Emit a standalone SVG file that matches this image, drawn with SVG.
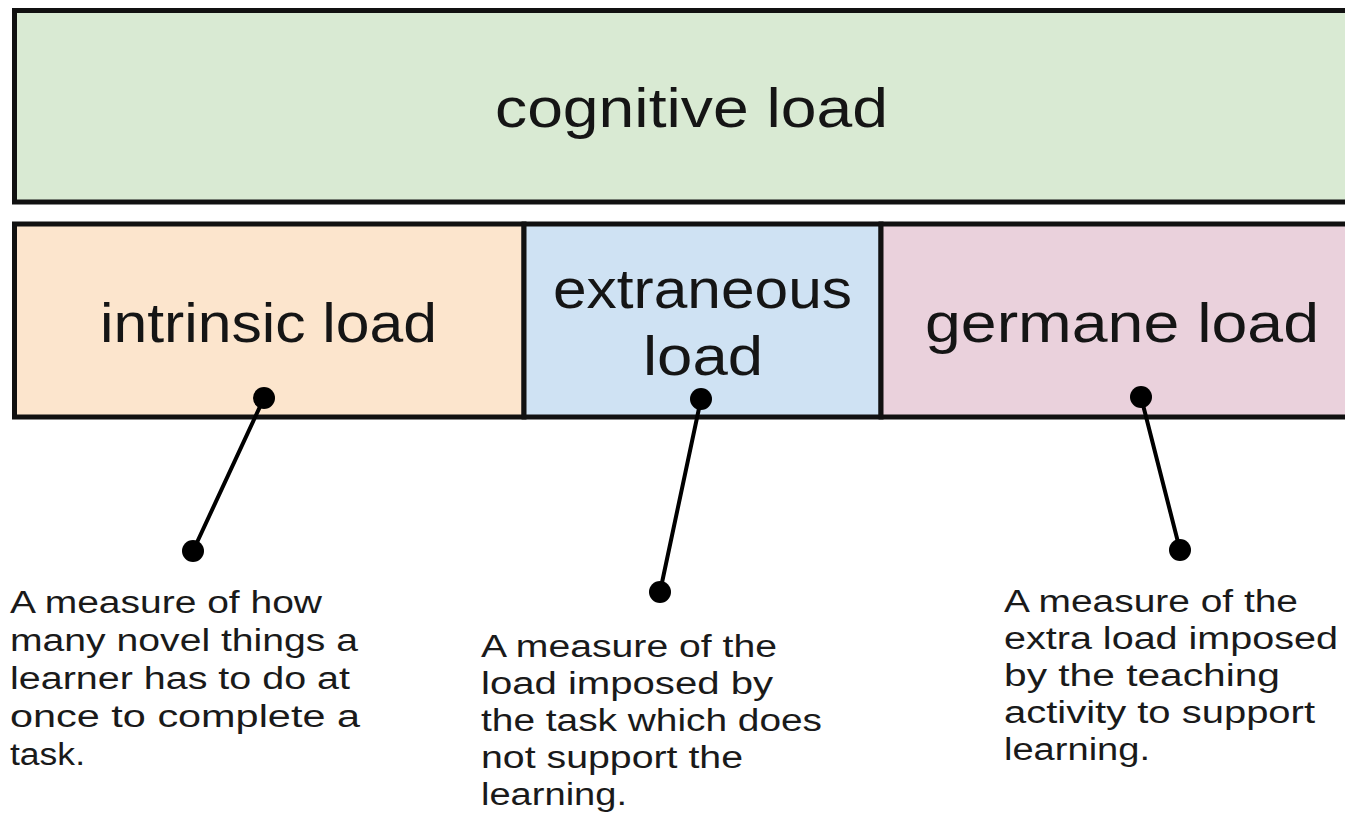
<svg xmlns="http://www.w3.org/2000/svg" width="1345" height="835" viewBox="0 0 1345 835">
  <style>
    .box { stroke: #111; stroke-width: 5; }
    .big { font-family: "Liberation Sans", Arial, sans-serif; font-size: 56px; fill: #151515; }
    .body { font-family: "Liberation Sans", Arial, sans-serif; font-size: 31px; fill: #1a1a1a; }
    .conn { stroke: #000; stroke-width: 4; stroke-linecap: round; }
    .dot { fill: #000; }
  </style>
  <rect x="0" y="0" width="1345" height="835" fill="#ffffff"/>
  <g id="cognitive-load">
    <rect class="box" x="14.5" y="10.5" width="1360" height="191.5" fill="#d9ead3"/>
    <text class="big" x="495" y="127" textLength="393" lengthAdjust="spacingAndGlyphs">cognitive load</text>
  </g>
  <g id="intrinsic-load">
    <rect class="box" x="14.5" y="224" width="509.5" height="193" fill="#fce5cd"/>
    <text class="big" x="100" y="342" textLength="337" lengthAdjust="spacingAndGlyphs">intrinsic load</text>
  </g>
  <g id="extraneous-load">
    <rect class="box" x="524" y="224" width="357" height="193" fill="#cfe2f3"/>
    <text class="big" x="553" y="308" textLength="299" lengthAdjust="spacingAndGlyphs">extraneous</text>
    <text class="big" x="643" y="375" textLength="120" lengthAdjust="spacingAndGlyphs">load</text>
  </g>
  <g id="germane-load">
    <rect class="box" x="881" y="224" width="480" height="193" fill="#ead1dc"/>
    <text class="big" x="925" y="342" textLength="394" lengthAdjust="spacingAndGlyphs">germane load</text>
  </g>
  <g id="connectors">
    <line class="conn" x1="264" y1="398" x2="193" y2="551"/>
    <circle class="dot" cx="264" cy="398" r="11"/>
    <circle class="dot" cx="193" cy="551" r="11"/>
    <line class="conn" x1="701" y1="399" x2="660" y2="592"/>
    <circle class="dot" cx="701" cy="399" r="11"/>
    <circle class="dot" cx="660" cy="592" r="11"/>
    <line class="conn" x1="1141" y1="397" x2="1180" y2="550"/>
    <circle class="dot" cx="1141" cy="397" r="11"/>
    <circle class="dot" cx="1180" cy="550" r="11"/>
  </g>
  <g id="intrinsic-desc">
    <text class="body" x="10" y="613" textLength="312" lengthAdjust="spacingAndGlyphs">A measure of how</text>
    <text class="body" x="10" y="651" textLength="348" lengthAdjust="spacingAndGlyphs">many novel things a</text>
    <text class="body" x="10" y="689" textLength="340" lengthAdjust="spacingAndGlyphs">learner has to do at</text>
    <text class="body" x="10" y="727" textLength="350" lengthAdjust="spacingAndGlyphs">once to complete a</text>
    <text class="body" x="10" y="765" textLength="75" lengthAdjust="spacingAndGlyphs">task.</text>
  </g>
  <g id="extraneous-desc">
    <text class="body" x="481" y="657" textLength="296" lengthAdjust="spacingAndGlyphs">A measure of the</text>
    <text class="body" x="481" y="694" textLength="292" lengthAdjust="spacingAndGlyphs">load imposed by</text>
    <text class="body" x="481" y="731" textLength="341" lengthAdjust="spacingAndGlyphs">the task which does</text>
    <text class="body" x="481" y="768" textLength="262" lengthAdjust="spacingAndGlyphs">not support the</text>
    <text class="body" x="481" y="805" textLength="146" lengthAdjust="spacingAndGlyphs">learning.</text>
  </g>
  <g id="germane-desc">
    <text class="body" x="1004" y="612" textLength="294" lengthAdjust="spacingAndGlyphs">A measure of the</text>
    <text class="body" x="1004" y="649" textLength="334" lengthAdjust="spacingAndGlyphs">extra load imposed</text>
    <text class="body" x="1004" y="686" textLength="276" lengthAdjust="spacingAndGlyphs">by the teaching</text>
    <text class="body" x="1004" y="723" textLength="311" lengthAdjust="spacingAndGlyphs">activity to support</text>
    <text class="body" x="1004" y="760" textLength="146" lengthAdjust="spacingAndGlyphs">learning.</text>
  </g>
</svg>
